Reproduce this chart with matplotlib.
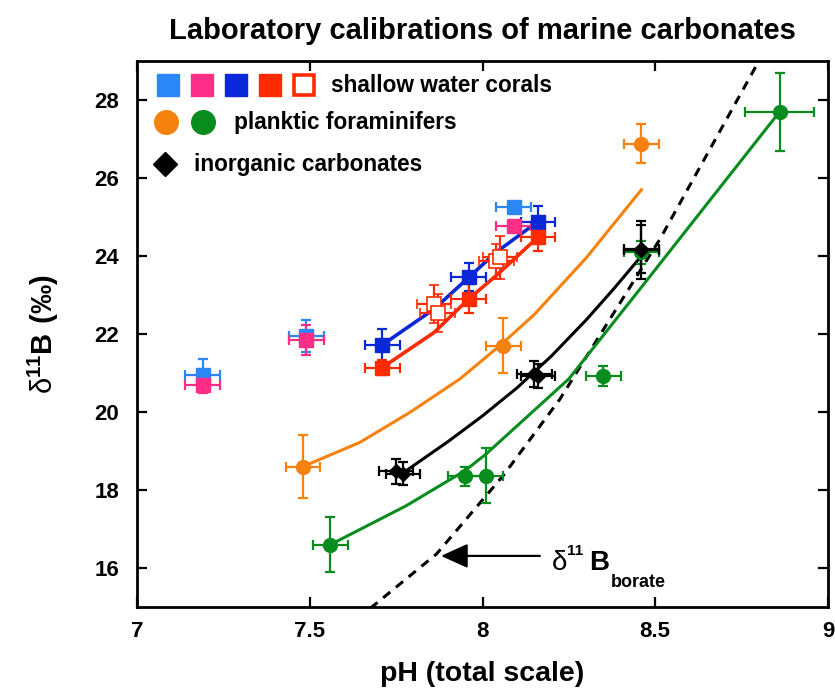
import matplotlib
matplotlib.use("Agg")
import matplotlib.pyplot as plt

plt.rcParams['font.family'] = ['Liberation Sans', 'DejaVu Sans']
plt.rcParams['mathtext.fontset'] = 'custom'
plt.rcParams['mathtext.rm'] = 'Liberation Sans'
plt.rcParams['mathtext.bf'] = 'Liberation Sans:bold'

# shallow water corals
ph_coral_lb = [7.19, 7.49, 8.09]
d11b_coral_lb = [20.95, 21.95, 25.25]
err_coral_lb = [0.4, 0.4, 0.1]

ph_coral_pk = [7.19, 7.49, 8.09]
d11b_coral_pk = [20.68, 21.85, 24.76]
err_coral_pk = [0.2, 0.38, 0.1]

ph_coral_db = [7.71, 7.96, 8.16]
d11b_coral_db = [21.72, 23.45, 24.88]
err_coral_db = [0.4, 0.36, 0.4]

ph_coral_rd = [7.71, 7.96, 8.16]
d11b_coral_rd = [21.14, 22.9, 24.48]
err_coral_rd = [0.2, 0.37, 0.34]

ph_coral_open = [7.86, 7.87, 8.04, 8.05]
d11b_coral_open = [22.77, 22.54, 23.87, 23.97]
err_coral_open = [0.49, 0.49, 0.45, 0.55]

fit_ph_db = [7.71, 7.86, 7.96, 8.04, 8.16]
fit_d11b_db = [21.72, 22.64, 23.45, 24.1, 24.88]
fit_ph_rd = [7.71, 7.86, 7.96, 8.04, 8.16]
fit_d11b_rd = [21.14, 22.04, 22.9, 23.5, 24.48]

# planktic foraminifers
ph_foram_or = [7.48, 8.06, 8.46]
d11b_foram_or = [18.6, 21.7, 26.88]
err_foram_or = [0.8, 0.7, 0.5]
fit_ph_or = [7.48, 7.645, 7.79, 7.935, 8.05, 8.15, 8.3, 8.46]
fit_d11b_or = [18.6, 19.22, 19.99, 20.85, 21.7, 22.5, 23.95, 25.7]

ph_foram_gr = [7.56, 7.95, 8.01, 8.35, 8.46, 8.86]
d11b_foram_gr = [16.6, 18.35, 18.37, 20.93, 24.09, 27.7]
err_foram_gr = [0.7, 0.24, 0.7, 0.26, 0.3, 1.0]
xerr_foram_gr = [0.05, 0.05, 0.05, 0.05, 0.05, 0.1]
fit_ph_gr = [7.56, 7.78, 7.95, 8.01, 8.25, 8.46, 8.66, 8.86]
fit_d11b_gr = [16.6, 17.6, 18.5, 18.92, 20.85, 23.2, 25.45, 27.7]

# inorganic carbonates
ph_inorg = [7.75, 7.77, 8.15, 8.16, 8.46, 8.46]
d11b_inorg = [18.48, 18.42, 20.97, 20.92, 24.15, 24.18]
err_inorg = [0.32, 0.3, 0.33, 0.3, 0.75, 0.62]
fit_ph_inorg = [7.78, 7.9, 8.0, 8.1, 8.2, 8.3, 8.38, 8.46]
fit_d11b_inorg = [18.5, 19.24, 19.9, 20.62, 21.44, 22.36, 23.16, 24.0]

# borate curve
ph_borate = [7.6, 7.68, 7.867, 8.06, 8.224, 8.514, 8.8, 8.85]
d11b_borate = [14.45, 15.0, 16.36, 18.37, 20.33, 24.44, 29.0, 29.8]

c_lb = '#2b86f7'
c_pk = '#ff2d86'
c_db = '#0a28d8'
c_rd = '#ff2a00'
c_or = '#f5820f'
c_gr = '#088c1e'

fig = plt.figure(figsize=(8.35, 6.92), dpi=100)
ax = fig.add_axes([137 / 835, 1 - 607 / 692, 691 / 835, 546 / 692])

# fitted curves
ax.plot(ph_borate, d11b_borate, color='black', lw=2.2, ls=(0, (3, 2.4)))
ax.plot(fit_ph_or, fit_d11b_or, color=c_or, lw=2.2)
ax.plot(fit_ph_gr, fit_d11b_gr, color=c_gr, lw=2.2)
ax.plot(fit_ph_inorg, fit_d11b_inorg, color='black', lw=2.2)
ax.plot(fit_ph_db, fit_d11b_db, color=c_db, lw=2.6)
ax.plot(fit_ph_rd, fit_d11b_rd, color=c_rd, lw=2.6)

eb = dict(ls='none', elinewidth=1.6, capsize=3.5, capthick=1.6)
ax.errorbar(ph_foram_gr, d11b_foram_gr, yerr=err_foram_gr, xerr=xerr_foram_gr,
            fmt='o', ms=10, color=c_gr, **eb)
ax.errorbar(ph_inorg, d11b_inorg, yerr=err_inorg, xerr=0.05,
            fmt='D', ms=7, color='black', **eb)
ax.errorbar(ph_foram_or, d11b_foram_or, yerr=err_foram_or, xerr=0.05,
            fmt='o', ms=10, color=c_or, **eb)
ax.errorbar(ph_coral_lb, d11b_coral_lb, yerr=err_coral_lb, xerr=0.05,
            fmt='s', ms=9.5, color=c_lb, **eb)
ax.errorbar(ph_coral_pk, d11b_coral_pk, yerr=err_coral_pk, xerr=0.05,
            fmt='s', ms=9.5, color=c_pk, **eb)
ax.errorbar(ph_coral_open, d11b_coral_open, yerr=err_coral_open, xerr=0.05,
            fmt='s', ms=9.5, color=c_rd, mfc='white', mew=1.2, **eb)
ax.errorbar(ph_coral_db, d11b_coral_db, yerr=err_coral_db, xerr=0.05,
            fmt='s', ms=9.5, color=c_db, **eb)
ax.errorbar(ph_coral_rd, d11b_coral_rd, yerr=err_coral_rd, xerr=0.05,
            fmt='s', ms=9.5, color=c_rd, **eb)

# legend built by hand
tr = ax.transAxes
for x, c in zip([0.045, 0.094, 0.143, 0.192], [c_lb, c_pk, c_db, c_rd]):
    ax.plot(x, 0.956, 's', ms=15.5, color=c, transform=tr, clip_on=False)
ax.plot(0.241, 0.956, 's', ms=14.5, mfc='white', mec=c_rd, mew=2.6, transform=tr)
ax.plot(0.042, 0.888, 'o', ms=17, color=c_or, transform=tr)
ax.plot(0.0955, 0.888, 'o', ms=17, color=c_gr, transform=tr)
ax.plot(0.0405, 0.811, 'D', ms=12.5, color='black', transform=tr)
leg_font = dict(fontsize=16.3, fontweight='bold', va='center', ha='left', transform=tr)
ax.text(0.281, 0.956, 'shallow water corals', **leg_font)
ax.text(0.140, 0.888, 'planktic foraminifers', **leg_font)
ax.text(0.0825, 0.811, 'inorganic carbonates', **leg_font)

# borate label with arrow
ax.annotate('', xy=(7.88, 16.31), xytext=(8.166, 16.31),
            arrowprops=dict(arrowstyle='-|>,head_length=0.55,head_width=0.25',
                            color='black', lw=1.6, mutation_scale=30,
                            shrinkA=0, shrinkB=0))
fig.text(552 / 835, 1 - 570 / 692, 'δ', fontsize=20, ha='left', va='baseline')
fig.text(567 / 835, 1 - 555 / 692, '11', fontsize=11, fontweight='bold', ha='left', va='baseline')
fig.text(589 / 835, 1 - 570 / 692, 'B', fontsize=20, fontweight='bold', ha='left', va='baseline')
fig.text(611 / 835, 1 - 587 / 692, 'borate', fontsize=13, fontweight='bold', ha='left', va='baseline')

ax.set_xlim(7, 9)
ax.set_ylim(15, 29)
ax.set_xticks([7, 7.5, 8, 8.5, 9])
ax.set_xticklabels(['7', '7.5', '8', '8.5', '9'])
ax.set_yticks([16, 18, 20, 22, 24, 26, 28])
ax.tick_params(direction='in', top=True, right=True, length=7, width=1.6,
               labelsize=16, pad=10)
ax.tick_params(axis='y', pad=13)
for lab in ax.get_xticklabels() + ax.get_yticklabels():
    lab.set_fontweight('bold')
for s in ax.spines.values():
    s.set_linewidth(2)

ax.set_xlabel('pH (total scale)', fontsize=20.5, fontweight='bold', labelpad=14)
ax.set_ylabel(r'$\mathrm{δ}^{\mathbf{11}}\mathbf{B\ (‰)}$', fontsize=21, labelpad=24)
ax.set_title('Laboratory calibrations of marine carbonates', fontsize=21,
             fontweight='bold', pad=16)

fig.savefig('out.png', dpi=100)
